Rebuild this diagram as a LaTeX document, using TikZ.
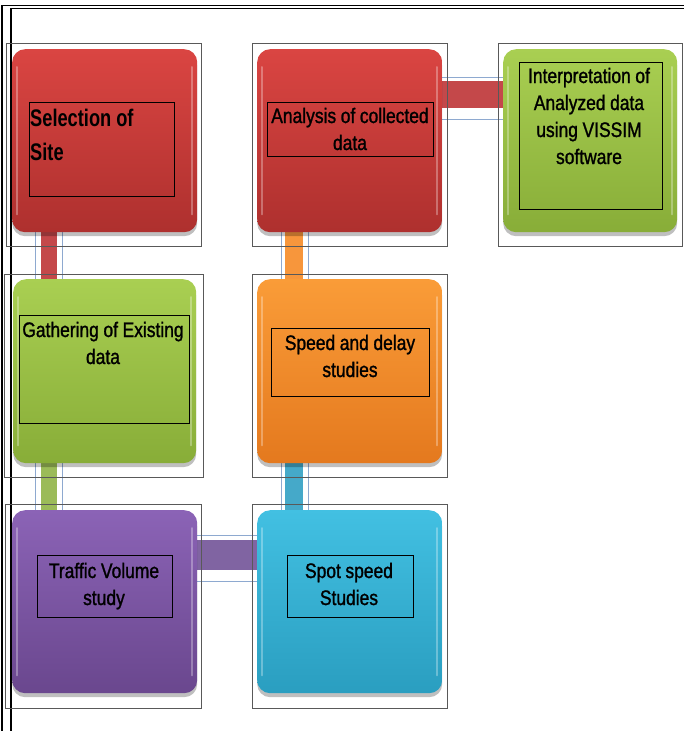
\documentclass[tikz,border=0pt]{standalone}
\usepackage{fontspec}
\setmainfont{Liberation Sans}
\newfontfamily\nar[FakeStretch=0.83,FakeBold=1.2]{Liberation Sans}
\newfontfamily\narb[FakeStretch=0.76]{Liberation Sans}
\newcommand\tightsp[1]{\spaceskip=#1\relax}
\usetikzlibrary{shadows,backgrounds}
\definecolor{redtop}{HTML}{DA4542}
\definecolor{redbot}{HTML}{AE302E}
\definecolor{grntop}{HTML}{A9CF52}
\definecolor{grnbot}{HTML}{88AD38}
\definecolor{orgtop}{HTML}{FA9C38}
\definecolor{orgbot}{HTML}{E4791E}
\definecolor{purtop}{HTML}{8B63B6}
\definecolor{purbot}{HTML}{6A478E}
\definecolor{cyntop}{HTML}{42C0E2}
\definecolor{cynbot}{HTML}{2A9EC0}
\definecolor{redbar}{HTML}{C4484A}
\definecolor{grnbar}{HTML}{9BBB59}
\definecolor{orgbar}{HTML}{F7963C}
\definecolor{cynbar}{HTML}{45A9C9}
\definecolor{purbar}{HTML}{8064A2}
\definecolor{bluel}{HTML}{8EA9D0}
\tikzset{
  proc/.style={rectangle, rounded corners=13pt, minimum width=185pt,
    minimum height=183pt, anchor=north west, inner sep=0pt,
    drop shadow={shadow xshift=0pt, shadow yshift=-4pt, opacity=0.25, fill=black}},
  frame/.style={draw=black!65, line width=0.9pt},
  tbox/.style={draw=black, line width=0.9pt},
  lbl/.style={font=\nar\fontsize{21}{27}\selectfont,
    text width=172pt, align=center, anchor=base, inner sep=0pt},
  edge/.style={draw=bluel, line width=0.9pt},
  pageline/.style={draw=black, line width=1.1pt}
}
\begin{document}
\begin{tikzpicture}[x=1pt, y=-1pt]
\useasboundingbox (0,0) rectangle (684,731);
% page border
\draw[pageline] (2,731) -- (2,5.5) -- (684,5.5);
\draw[pageline] (11,731) -- (11,8.5) -- (684,8.5);

% boxes
\node[proc, top color=redtop, bottom color=redbot] (b1) at (12,49) {};
\node[proc, top color=redtop, bottom color=redbot] (b2) at (257,49) {};
\node[proc, minimum width=174pt, top color=grntop, bottom color=grnbot] (b3) at (503,49) {};
\node[proc, minimum width=183pt, minimum height=184pt, top color=grntop, bottom color=grnbot] (b4) at (13,279) {};
\node[proc, minimum height=184pt, top color=orgtop, bottom color=orgbot] (b5) at (257,279) {};
\node[proc, top color=purtop, bottom color=purbot] (b6) at (12,510) {};
\node[proc, top color=cyntop, bottom color=cynbot] (b7) at (257,510) {};

% gloss highlights
\foreach \b in {b1,b2,b3,b4,b5,b6,b7}{
  \draw[white, opacity=0.3, line width=2pt, line cap=round]
    ([shift={(5,18)}]\b.north west) -- ([shift={(5,-18)}]\b.south west);
  \draw[white, opacity=0.3, line width=2pt, line cap=round]
    ([shift={(-5,18)}]\b.north east) -- ([shift={(-5,-18)}]\b.south east);
}

% outer frames
\draw[frame] (6,43) rectangle (201,246);
\draw[frame] (252,43) rectangle (447,246);
\draw[frame] (498,43) rectangle (682,246);
\draw[frame] (4,274) rectangle (203,477);
\draw[frame] (252,274) rectangle (447,477);
\draw[frame] (5,504) rectangle (201,708);
\draw[frame] (252,504) rectangle (447,708);

% inner text boxes
\draw[tbox] (29,102) rectangle (174,196);
\draw[tbox] (267,102) rectangle (433,156);
\draw[tbox] (519,62) rectangle (662,209);
\draw[tbox] (19,315) rectangle (189,423);
\draw[tbox] (271,328) rectangle (429,396);
\draw[tbox] (37,555) rectangle (172,617);
\draw[tbox] (287,555) rectangle (413,617);

% labels
\node[font=\narb\bfseries\fontsize{24}{34}\selectfont,
  text width=150pt, align=left, anchor=base west, inner sep=0pt] (t1) at (30,126)
  {\tightsp{5pt}Selection of\\Site};
\node[lbl] (t2) at (350,123) {\tightsp{4.6pt}Analysis of collected\\data};
\node[lbl, text width=160pt] (t3) at (589,83) {\tightsp{4.6pt}Interpretation of\\Analyzed data\\using VISSIM\\software};
\node[lbl] (t4) at (103,337) {\tightsp{4.6pt}Gathering of Existing\\data};
\node[lbl] (t5) at (350,350) {\tightsp{4.6pt}Speed and delay\\studies};
\node[lbl] (t6) at (104,578) {\tightsp{4.6pt}Traffic Volume\\study};
\node[lbl] (t7) at (349,578) {\tightsp{4.6pt}Spot speed\\Studies};

% connectors
\begin{pgfonlayer}{background}
  % b1 -> b4
  \fill[redbar] (41,0 |- b1.south) rectangle (57,0 |- b4.north);
  \draw[edge] (35.5,0 |- b1.south) -- (35.5,0 |- b4.north);
  \draw[edge] (62,0 |- b1.south) -- (62,0 |- b4.north);
  % b4 -> b6
  \fill[grnbar] (41,0 |- b4.south) rectangle (57,0 |- b6.north);
  \draw[edge] (35.5,0 |- b4.south) -- (35.5,0 |- b6.north);
  \draw[edge] (62,0 |- b4.south) -- (62,0 |- b6.north);
  % b6 -> b7
  \fill[purbar] (b6.east |- 0,540) rectangle (b7.west |- 0,570);
  \draw[edge] (b6.east |- 0,535) -- (b7.west |- 0,535);
  \draw[edge] (b6.east |- 0,581) -- (b7.west |- 0,581);
  % b7 -> b5
  \fill[cynbar] (285,0 |- b5.south) rectangle (303,0 |- b7.north);
  \draw[edge] (281,0 |- b5.south) -- (281,0 |- b7.north);
  \draw[edge] (308,0 |- b5.south) -- (308,0 |- b7.north);
  % b5 -> b2
  \fill[orgbar] (285,0 |- b2.south) rectangle (303,0 |- b5.north);
  \draw[edge] (281,0 |- b2.south) -- (281,0 |- b5.north);
  \draw[edge] (308,0 |- b2.south) -- (308,0 |- b5.north);
  % b2 -> b3
  \fill[redbar] (b2.east |- 0,81) rectangle (b3.west |- 0,108);
  \draw[edge] (b2.east |- 0,77) -- (b3.west |- 0,77);
  \draw[edge] (b2.east |- 0,119) -- (b3.west |- 0,119);
\end{pgfonlayer}
\end{tikzpicture}
\end{document}
